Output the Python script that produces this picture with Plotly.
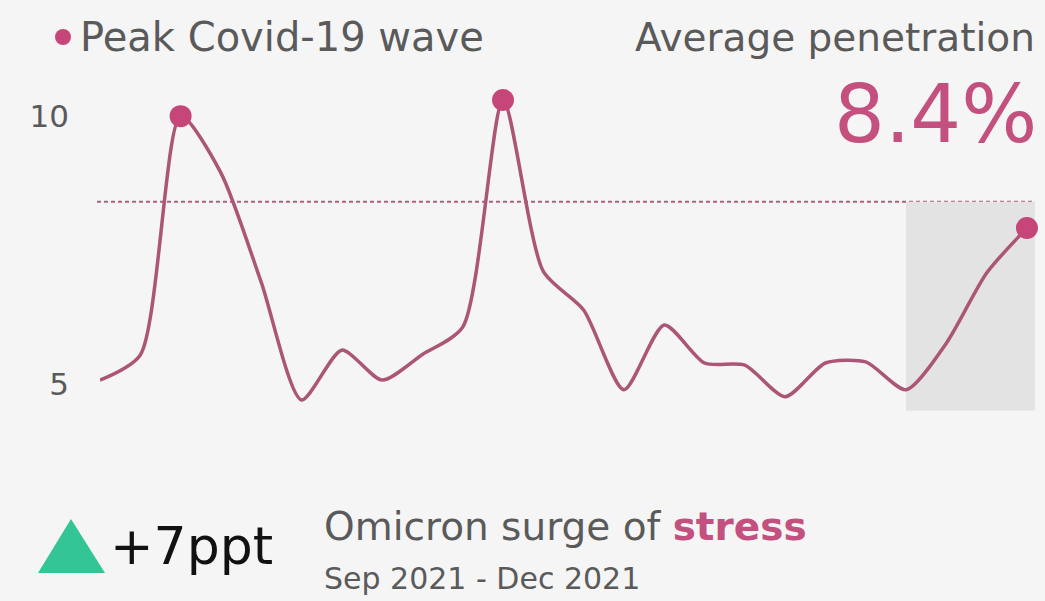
import plotly.graph_objects as go

# ---- data ----
months = list(range(24))  # Jan 2020 .. Dec 2021 (monthly)
penetration = [5.07, 5.54, 10.0, 8.94, 6.9, 4.7, 5.63, 5.07, 5.55, 6.06,
               10.3, 7.1, 6.38, 4.89, 6.1, 5.39, 5.35, 4.76, 5.39, 5.41,
               4.89, 5.76, 7.07, 7.91]
peak_idx = [2, 10, 23]
avg_value = 8.4
ytick_vals = [5, 10]
ytick_text = ["5", "10"]
shade_start = 20
shade_end = 23.2
shade_bottom = 4.5

W, H = 1045, 601
L, R, T, B = 100, 10, 84, 185
PW, PH = W - L - R, H - T - B

def pxx(x):
    return (x - L) / PW

def pxy(y):
    return (H - B - y) / PH

LINE_COL = "#ab5577"
MARK_COL = "#c6467a"
PINK = "#c3507f"
GRAY = "#5a5a5a"
FONT = "DejaVu Sans"

fig = go.Figure()

fig.add_trace(go.Scatter(
    x=months, y=penetration, mode="lines",
    line=dict(color=LINE_COL, width=3.5, shape="spline", smoothing=0.7),
    hoverinfo="skip", showlegend=False, cliponaxis=False,
))
fig.add_trace(go.Scatter(
    x=[months[i] for i in peak_idx], y=[penetration[i] for i in peak_idx],
    mode="markers", marker=dict(color=MARK_COL, size=22),
    name="Peak Covid-19 wave", showlegend=False, cliponaxis=False,
))

shapes = [
    dict(type="rect", xref="x", yref="y", x0=shade_start, x1=shade_end,
         y0=shade_bottom, y1=avg_value, fillcolor="#e3e3e3", line_width=0,
         layer="below"),
    dict(type="line", xref="paper", yref="y", x0=pxx(97), x1=pxx(1035),
         y0=avg_value, y1=avg_value,
         line=dict(color="#b0607f", width=2, dash="4px,3px"), layer="below"),
    dict(type="circle", xref="paper", yref="paper",
         x0=pxx(55), x1=pxx(71), y0=pxy(45), y1=pxy(29),
         fillcolor=MARK_COL, line_width=0),
    dict(type="path", xref="paper", yref="paper",
         path=f"M {pxx(38)} {pxy(573)} L {pxx(105)} {pxy(573)} L {pxx(71)} {pxy(519)} Z",
         fillcolor="#33c596", line_width=0),
]

annotations = [
    dict(text="Peak Covid-19 wave", x=pxx(78), y=pxy(37), xanchor="left",
         yanchor="middle", font=dict(size=40, color=GRAY, family=FONT)),
    dict(text="Average penetration", x=pxx(1037), y=pxy(37), xanchor="right",
         yanchor="middle", font=dict(size=39, color=GRAY, family=FONT)),
    dict(text=f"{avg_value}%", x=pxx(1039), y=pxy(114), xanchor="right",
         yanchor="middle", font=dict(size=80, color=PINK, family=FONT)),
    dict(text="+7ppt", x=pxx(108), y=pxy(546), xanchor="left",
         yanchor="middle", font=dict(size=52, color="#111111", family=FONT)),
    dict(text=f"Omicron surge of <b><span style='color:{PINK}'>stress</span></b>",
         x=pxx(322), y=pxy(526), xanchor="left", yanchor="middle",
         font=dict(size=39, color=GRAY, family=FONT)),
    dict(text="Sep 2021 - Dec 2021", x=pxx(322), y=pxy(578), xanchor="left",
         yanchor="middle", font=dict(size=30, color=GRAY, family=FONT)),
]
for a in annotations:
    a.update(xref="paper", yref="paper", showarrow=False)

fig.update_layout(
    width=W, height=H,
    margin=dict(l=L, r=R, t=T, b=B, pad=0),
    paper_bgcolor="#f5f5f5", plot_bgcolor="#f5f5f5",
    shapes=shapes, annotations=annotations,
    xaxis=dict(range=[0, 23.2], showgrid=False, zeroline=False,
               showticklabels=False, showline=False, fixedrange=True),
    yaxis=dict(range=[4.4, 10.6], showgrid=False, zeroline=False,
               tickvals=ytick_vals, ticktext=ytick_text,
               tickfont=dict(size=31, color=GRAY, family=FONT),
               ticks="", ticklabelstandoff=30, showline=False, fixedrange=True),
    font=dict(family=FONT),
)

fig.write_html("out.html", config={"displayModeBar": False},
               post_script="document.body.style.margin='0px';document.body.style.background='#f5f5f5';")
